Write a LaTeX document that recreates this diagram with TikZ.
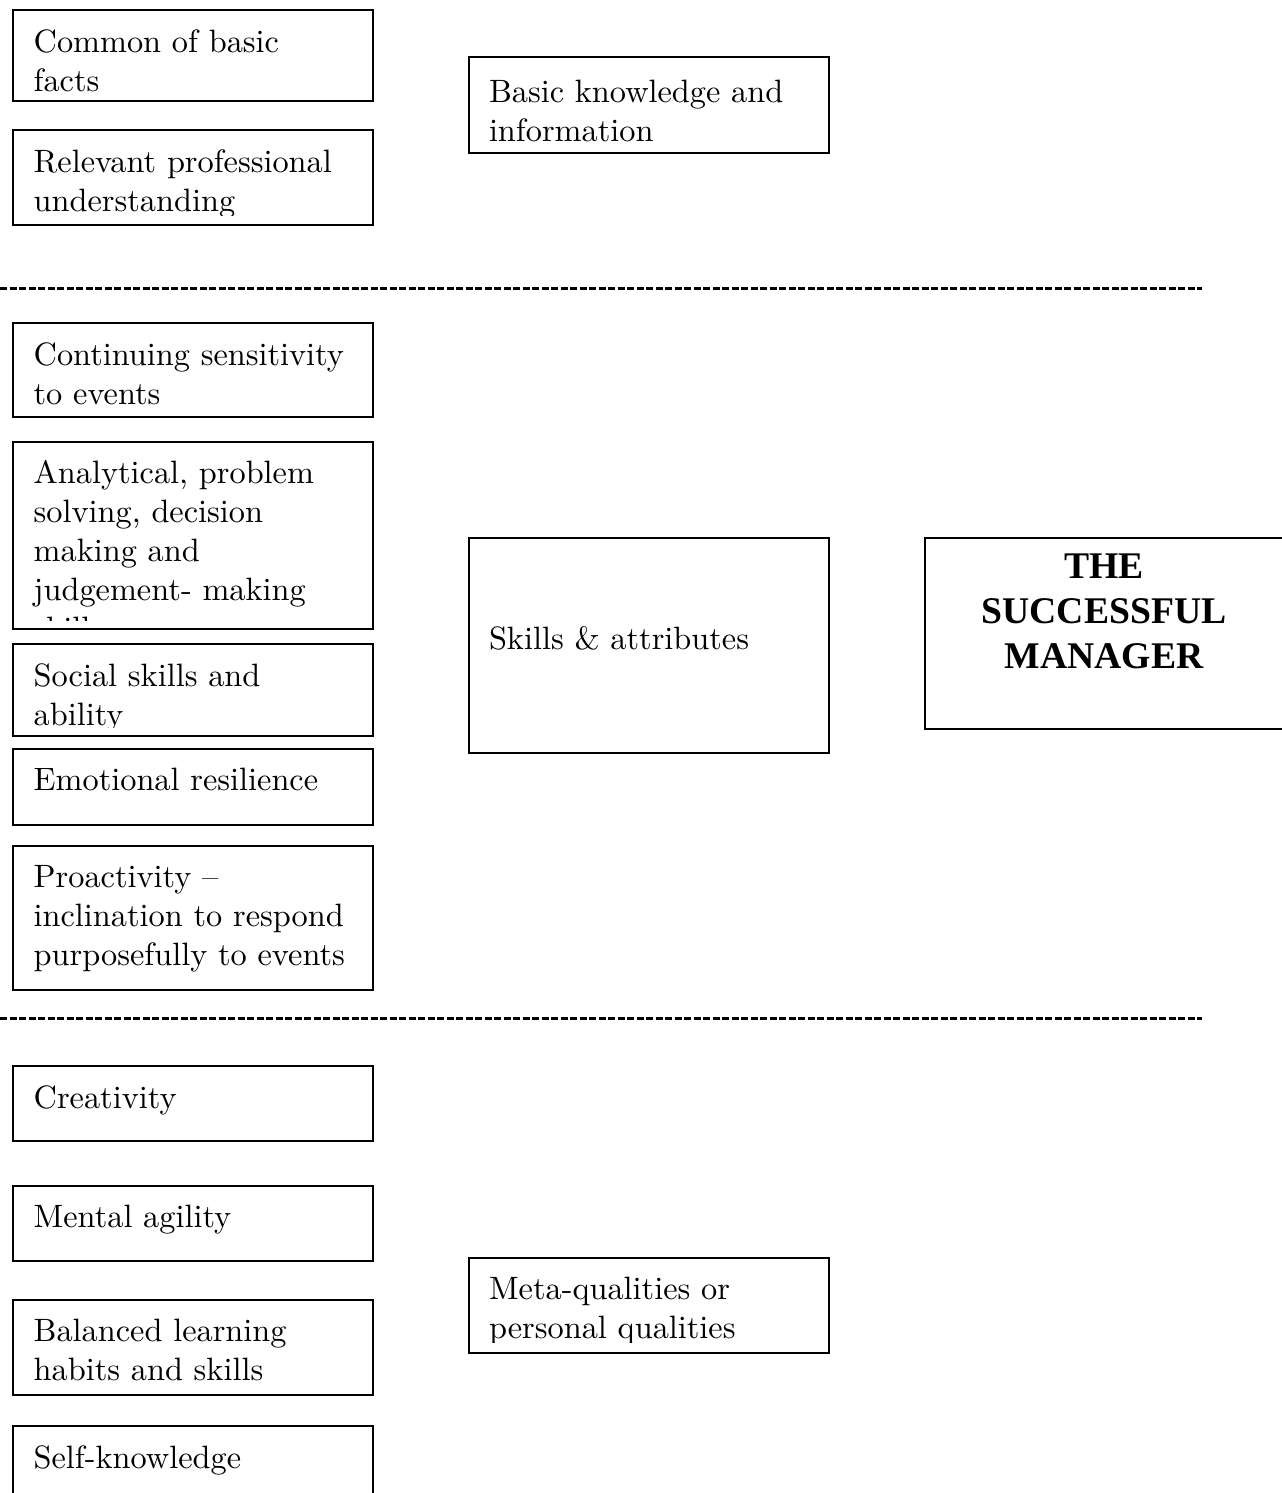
\documentclass[tikz,border=0pt]{standalone}
\usepackage{fontspec}
\newfontfamily\titlefont{Liberation Serif}
\tikzset{
  box/.style={draw, line width=0.6pt, anchor=north west, inner sep=0pt,
    minimum width=108pt, minimum height=#1},
  boxtext/.style={anchor=north west, align=left, inner sep=0pt,
    font=\fontsize{9.7}{11.7}\selectfont},
  titletext/.style={anchor=base, align=center, inner sep=0pt,
    font=\titlefont\bfseries\fontsize{11.3}{13.5}\selectfont},
  sep/.style={line width=0.9pt, dash pattern=on 2.1pt off 0.75pt},
}

\begin{document}
\begin{tikzpicture}[x=0.3pt, y=-0.3pt]
  \useasboundingbox (0,0) rectangle (1281,1493);

  % basic knowledge band
  \node[box=27.3pt] (facts) at (12,9) {};
  \node[boxtext] (facts-t) at ([xshift=6.3pt,yshift=-5.9pt]facts.north west)
    {Common of basic\\facts};
  \node[box=28.5pt] (prof) at (12,129) {};
  \begin{scope}
    \clip (prof.north west) rectangle ([yshift=3pt]prof.south east);
    \node[boxtext] (prof-t) at ([xshift=6.3pt,yshift=-5.9pt]prof.north west)
      {Relevant professional\\understanding};
  \end{scope}
  \node[box=28.8pt] (know) at (468,56) {};
  \node[boxtext] (know-t) at ([xshift=6.1pt,yshift=-7.1pt]know.north west)
    {Basic knowledge and\\information};

  \coordinate (cutA-l) at (0,288);
  \coordinate (cutA-r) at (1202,288);
  \draw[sep] (cutA-l) -- (cutA-r);

  % skills band
  \node[box=28.2pt] (sens) at (12,322) {};
  \node[boxtext] (sens-t) at ([xshift=6.3pt,yshift=-5.9pt]sens.north west)
    {Continuing sensitivity\\to events};
  \node[box=56.1pt] (anal) at (12,441) {};
  \begin{scope}
    \clip (anal.north west) rectangle ([yshift=3pt]anal.south east);
    \node[boxtext] (anal-t) at ([xshift=6.3pt,yshift=-5.6pt]anal.north west)
      {Analytical, problem\\solving, decision\\making and\\judgement- making\\skills};
  \end{scope}
  \node[box=27.6pt] (social) at (12,643) {};
  \begin{scope}
    \clip (social.north west) rectangle ([yshift=3pt]social.south east);
    \node[boxtext] (social-t) at ([xshift=6.3pt,yshift=-5.9pt]social.north west)
      {Social skills and\\ability};
  \end{scope}
  \node[box=22.8pt] (emo) at (12,748) {};
  \node[boxtext] (emo-t) at ([xshift=6.3pt,yshift=-5.9pt]emo.north west)
    {Emotional resilience};
  \node[box=43.2pt] (pro) at (12,845) {};
  \node[boxtext] (pro-t) at ([xshift=6.3pt,yshift=-5.9pt]pro.north west)
    {Proactivity --\\inclination to respond\\purposefully to events};

  \node[box=64.5pt] (skills) at (468,537) {};
  \node[boxtext, anchor=base west] (skills-t)
    at ([xshift=6.1pt,yshift=-33.6pt]skills.north west) {Skills \& attributes};

  \node[box=57.3pt, minimum width=107.4pt] (mgr) at (924,537) {};
  \node[titletext] (mgr-t) at ([yshift=-39.3pt]mgr.north)
    {THE\\SUCCESSFUL\\MANAGER};

  \coordinate (cutB-l) at (0,1018);
  \coordinate (cutB-r) at (1202,1018);
  \draw[sep] (cutB-l) -- (cutB-r);

  % meta-qualities band
  \node[box=22.5pt] (creat) at (12,1065) {};
  \node[boxtext] (creat-t) at ([xshift=6.3pt,yshift=-5.9pt]creat.north west)
    {Creativity};
  \node[box=22.5pt] (agil) at (12,1185) {};
  \node[boxtext] (agil-t) at ([xshift=6.3pt,yshift=-5.9pt]agil.north west)
    {Mental agility};
  \node[box=28.5pt] (learn) at (12,1299) {};
  \node[boxtext] (learn-t) at ([xshift=6.3pt,yshift=-5.9pt]learn.north west)
    {Balanced learning\\habits and skills};
  \node[box=28.5pt] (self) at (12,1425) {};
  \node[boxtext] (self-t) at ([xshift=6.3pt,yshift=-5.9pt]self.north west)
    {Self-knowledge};

  \node[box=28.5pt] (meta) at (468,1257) {};
  \begin{scope}
    \clip (meta.north west) rectangle ([yshift=3.6pt]meta.south east);
    \node[boxtext] (meta-t) at ([xshift=6.1pt,yshift=-5.9pt]meta.north west)
      {Meta-qualities or\\personal qualities};
  \end{scope}
\end{tikzpicture}
\end{document}
